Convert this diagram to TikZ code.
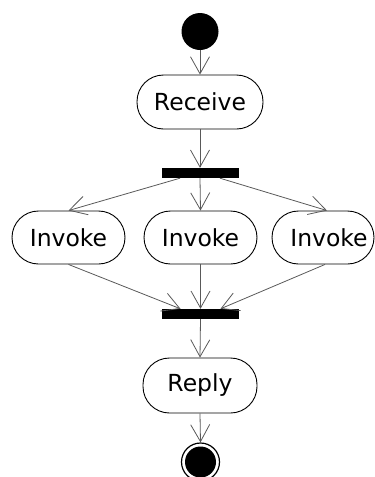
\documentclass[tikz,border=0pt]{standalone}
\usepackage{fontspec}
\setmainfont{DejaVu Sans}
\usetikzlibrary{arrows.meta,calc}
\begin{document}
\begin{tikzpicture}[x=1pt,y=-1pt,
  action/.style={draw=black, line width=0.9pt, rounded corners=26.5pt,
    minimum height=53pt, minimum width=113pt, inner sep=0pt,
    font=\fontsize{23.5}{28}\selectfont},
  syncbar/.style={fill=black, inner sep=0pt, minimum width=77pt, minimum height=10pt},
  flow/.style={draw=black!65, line width=0.8pt,
    -{Straight Barb[length=17pt,width=19pt,line width=0.8pt]}}
]
\useasboundingbox (0,0) rectangle (375,477);

% initial state
\node[circle, fill=black, minimum size=37pt, inner sep=0pt] (start) at (200,31.5) {};

% actions and synchronisation bars
\node[action, minimum width=126pt, minimum height=54pt] (receive) at (200,102) {Receive};
\node[syncbar] (fork) at (200,173) {};
\node[action] (inv1) at (68.5,237.5) {Invoke};
\node[action] (inv2) at (200.5,237.5) {Invoke};
\node[action, minimum width=102pt] (inv3) at (323,237.5) {\hspace*{12pt}Invoke};
\node[syncbar] (join) at (200.5,314) {};
\node[action, minimum width=114pt, minimum height=55pt] (reply) at (200,385.5) {Reply};

% final state
\node[circle, draw=black, line width=1.2pt, minimum size=38pt, inner sep=0pt,
  path picture={\fill[black] (path picture bounding box.center) circle (15.5pt);}]
  (finish) at (200.5,462) {};

% control flow
\draw[flow] (start) -- (receive);
\draw[flow] (receive.south) -- (fork.north);
\draw[flow] ($(fork.south)+(-20,0)$) -- (inv1.north);
\draw[flow] (fork.south) -- (inv2.north);
\draw[flow] ($(fork.south)+(20,0)$) -- ($(inv3.north)+(4,0)$);
\draw[flow] (inv1.south) -- ($(join.north)+(-20,0)$);
\draw[flow] (inv2.south) -- (join.north);
\draw[flow] ($(inv3.south)+(2,0)$) -- ($(join.north)+(20,0)$);
\draw[flow] (join.south) -- (reply.north);
\draw[flow] (reply.south) -- (finish.north);
\end{tikzpicture}
\end{document}
